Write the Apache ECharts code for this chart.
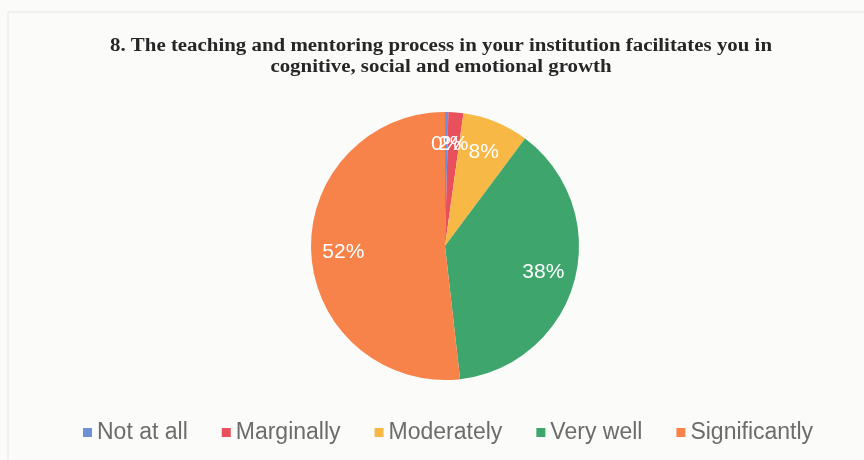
<!DOCTYPE html>
<html lang="en">
<head>
    <meta charset="UTF-8"/>
    <script src="https://cdn.jsdelivr.net/npm/echarts@6/dist/echarts.min.js"></script>
    <title>Pie</title>
    <style>
        html, body { margin: 0; padding: 0; background: #fbfbfa; }
        #pie { width: 864px; height: 460px; }
    </style>
</head>
<body>
<div id="pie"></div>
<script type="text/javascript">
    // data (percent of answers)
    var categories = ['Not at all', 'Marginally', 'Moderately', 'Very well', 'Significantly'];
    var values = [0.4, 1.8, 8.0, 38.0, 51.8];
    var labels = ['0%', '2%', '8%', '38%', '52%'];
    var colors = ['#6f90d6', '#e8505c', '#f8b846', '#3ea56c', '#f7834b'];
    var titleText = '8. The teaching and mentoring process in your institution facilitates you in\ncognitive, social and emotional growth';

    var cx = 445, cy = 246, R = 134;

    var total = 0;
    for (var i = 0; i < values.length; i++) total += values[i];

    var echartData = [];
    for (var i = 0; i < categories.length; i++) {
        echartData.push({ name: categories[i], value: values[i], itemStyle: { color: colors[i] } });
    }

    // put the labels near the rim, like the office chart does
    function labelPos(idx) {
        var before = 0;
        for (var j = 0; j < idx; j++) before += values[j];
        var mid = (before + values[idx] / 2) / total * Math.PI * 2;
        var k = 0.76;
        return { x: cx + R * k * Math.sin(mid), y: cy - R * k * Math.cos(mid) };
    }

    var myChart = echarts.init(document.getElementById('pie'));
    var option = {
        backgroundColor: '#fbfbfa',
        animation: false,
        legend: {
            data: categories,
            top: 416,
            left: 78,
            itemWidth: 9,
            itemHeight: 9,
            itemGap: 34,
            icon: 'rect',
            textStyle: {
                fontFamily: 'Liberation Sans',
                fontSize: 23,
                color: '#6c6c6c',
                padding: [0, 0, 0, 0]
            }
        },
        graphic: [{
            type: 'rect',
            shape: { x: 8, y: 12, width: 870, height: 460 },
            style: { fill: 'none', stroke: '#e6e6e6', lineWidth: 1 },
            silent: true
        }, {
            // title, a little stretched sideways like the scanned one
            type: 'text',
            x: 441,
            y: 36,
            scaleX: 1.16,
            silent: true,
            style: {
                text: titleText,
                fontFamily: 'Liberation Serif',
                fontWeight: 'bold',
                fontSize: 18,
                lineHeight: 21,
                fill: '#262626',
                align: 'center',
                verticalAlign: 'top'
            }
        }],
        series: [{
            type: 'pie',
            radius: R,
            center: [cx, cy],
            startAngle: 90,
            clockwise: true,
            data: echartData,
            label: {
                show: true,
                position: 'inside',
                fontFamily: 'Liberation Sans',
                fontSize: 21,
                color: '#ffffff',
                formatter: function (p) { return labels[p.dataIndex]; }
            },
            labelLine: { show: false },
            labelLayout: function (params) {
                var p = labelPos(params.dataIndex);
                return { x: p.x, y: p.y, align: 'center', verticalAlign: 'middle' };
            },
            itemStyle: { borderWidth: 0 },
            emphasis: { disabled: true }
        }]
    };
    myChart.setOption(option);
</script>
</body>
</html>
